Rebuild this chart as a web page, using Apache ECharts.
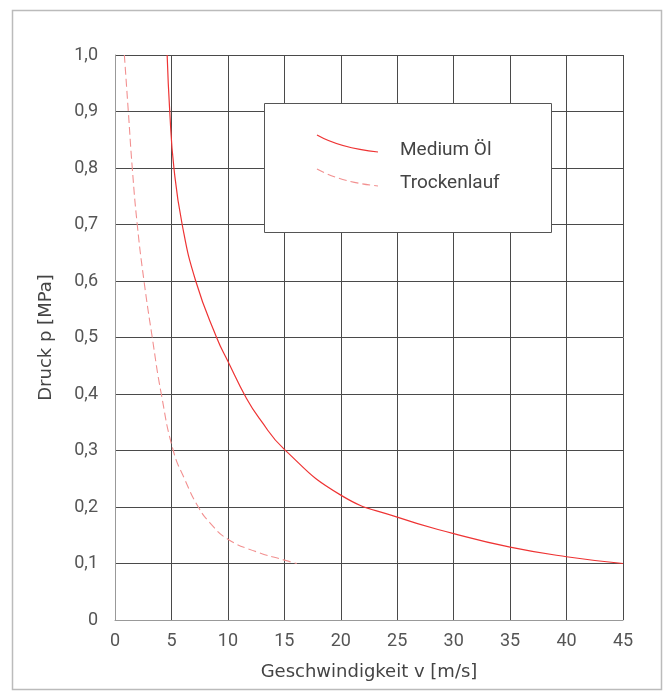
<!DOCTYPE html>
<html>
<head>
<meta charset="utf-8">
<script src="https://cdn.jsdelivr.net/npm/echarts@6/dist/echarts.min.js"></script>
<style>html,body{margin:0;padding:0;background:#fff;}#c{width:672px;height:700px;}</style>
</head>
<body>
<div id="c"></div>
<script>
const xTicks = [0, 5, 10, 15, 20, 25, 30, 35, 40, 45];
const yTicks = [0, 0.1, 0.2, 0.3, 0.4, 0.5, 0.6, 0.7, 0.8, 0.9, 1.0];
const seriesNames = ['Medium Öl', 'Trockenlauf'];
const oilV = [4.62, 4.85, 5.22, 5.95, 7.15, 9.0, 10.0, 11.65, 12.85, 15.0, 20.0, 25.0, 30.0, 35.0, 40.0, 45.0];
const oilP = [1.0, 0.9, 0.8, 0.7, 0.6, 0.5, 0.458, 0.392, 0.355, 0.302, 0.221, 0.182, 0.153, 0.129, 0.112, 0.1];
const dryV = [0.83, 1.18, 1.53, 1.97, 2.57, 3.3, 4.1, 5.16, 6.2, 7.38, 8.41, 10.0, 12.5, 15.0, 16.1];
const dryP = [1.0, 0.9, 0.8, 0.7, 0.6, 0.5, 0.4, 0.3, 0.248, 0.2, 0.172, 0.143, 0.121, 0.106, 0.1];
const xName = 'Geschwindigkeit v [m/s]';
const yName = 'Druck p [MPa]';

const FONT = 'Roboto';
const NAMEFONT = 'DejaVu Sans';
const chart = echarts.init(document.getElementById('c'));
const pair = (a, b) => a.map((v, i) => [v, b[i]]);
chart.setOption({
  animation: false,
  backgroundColor: '#fff',
  grid: { left: 115, right: 49, top: 55, bottom: 80, containLabel: false },
  xAxis: {
    type: 'value', min: xTicks[0], max: xTicks[xTicks.length - 1], interval: 5,
    name: xName, nameLocation: 'middle', nameGap: 43,
    nameTextStyle: { fontFamily: NAMEFONT, fontSize: 18, color: '#444' },
    axisLine: { show: true, lineStyle: { color: '#999', width: 1 } },
    axisTick: { show: false },
    axisLabel: { fontFamily: FONT, fontSize: 18, color: '#555', margin: 12 },
    splitLine: { show: true, lineStyle: { color: '#4a4a4a', width: 1 } }
  },
  yAxis: {
    type: 'value', min: yTicks[0], max: yTicks[yTicks.length - 1], interval: 0.1,
    name: yName, nameLocation: 'middle', nameGap: 60,
    nameTextStyle: { fontFamily: NAMEFONT, fontSize: 18, color: '#444' },
    axisLine: { show: true, lineStyle: { color: '#999', width: 1 } },
    axisTick: { show: false },
    axisLabel: {
      fontFamily: FONT, fontSize: 18, color: '#555', margin: 17,
      formatter: v => (Math.abs(v) < 1e-9 ? '0' : v.toFixed(1).replace('.', ','))
    },
    splitLine: { show: true, lineStyle: { color: '#4a4a4a', width: 1 } }
  },
  legend: { show: false },
  series: [
    {
      name: seriesNames[0], type: 'line', data: pair(oilV, oilP), smooth: 0.5,
      showSymbol: false, lineStyle: { color: '#ee3333', width: 1.2 }, z: 5
    },
    {
      name: seriesNames[1], type: 'line', data: pair(dryV, dryP), smooth: 0.5,
      showSymbol: false, lineStyle: { color: '#f29090', width: 1.1, type: [8, 4] }, z: 5
    }
  ],
  graphic: [
    { type: 'rect', shape: { x: 12.5, y: 10.5, width: 649, height: 679 },
      style: { fill: 'none', stroke: '#bbb', lineWidth: 1.5 }, silent: true, z: -1 },
    { type: 'rect', shape: { x: 264.5, y: 103.5, width: 287, height: 129 },
      style: { fill: '#fff', stroke: '#555', lineWidth: 1 }, z: 100 },
    { type: 'bezierCurve', shape: { x1: 317, y1: 135, x2: 378, y2: 152, cpx1: 340, cpy1: 148 },
      style: { stroke: '#ee3333', lineWidth: 1.2, fill: 'none' }, z: 101 },
    { type: 'bezierCurve', shape: { x1: 317, y1: 169, x2: 378, y2: 186, cpx1: 340, cpy1: 182 },
      style: { stroke: '#f29090', lineWidth: 1.1, fill: 'none', lineDash: [8, 4] }, z: 101 },
    { type: 'text', left: 400, top: 141, z: 101,
      style: { text: seriesNames[0], fontFamily: FONT, fontSize: 19, fill: '#444' } },
    { type: 'text', left: 400, top: 174, z: 101,
      style: { text: seriesNames[1], fontFamily: FONT, fontSize: 19, fill: '#444' } }
  ]
});
</script>
</body>
</html>
